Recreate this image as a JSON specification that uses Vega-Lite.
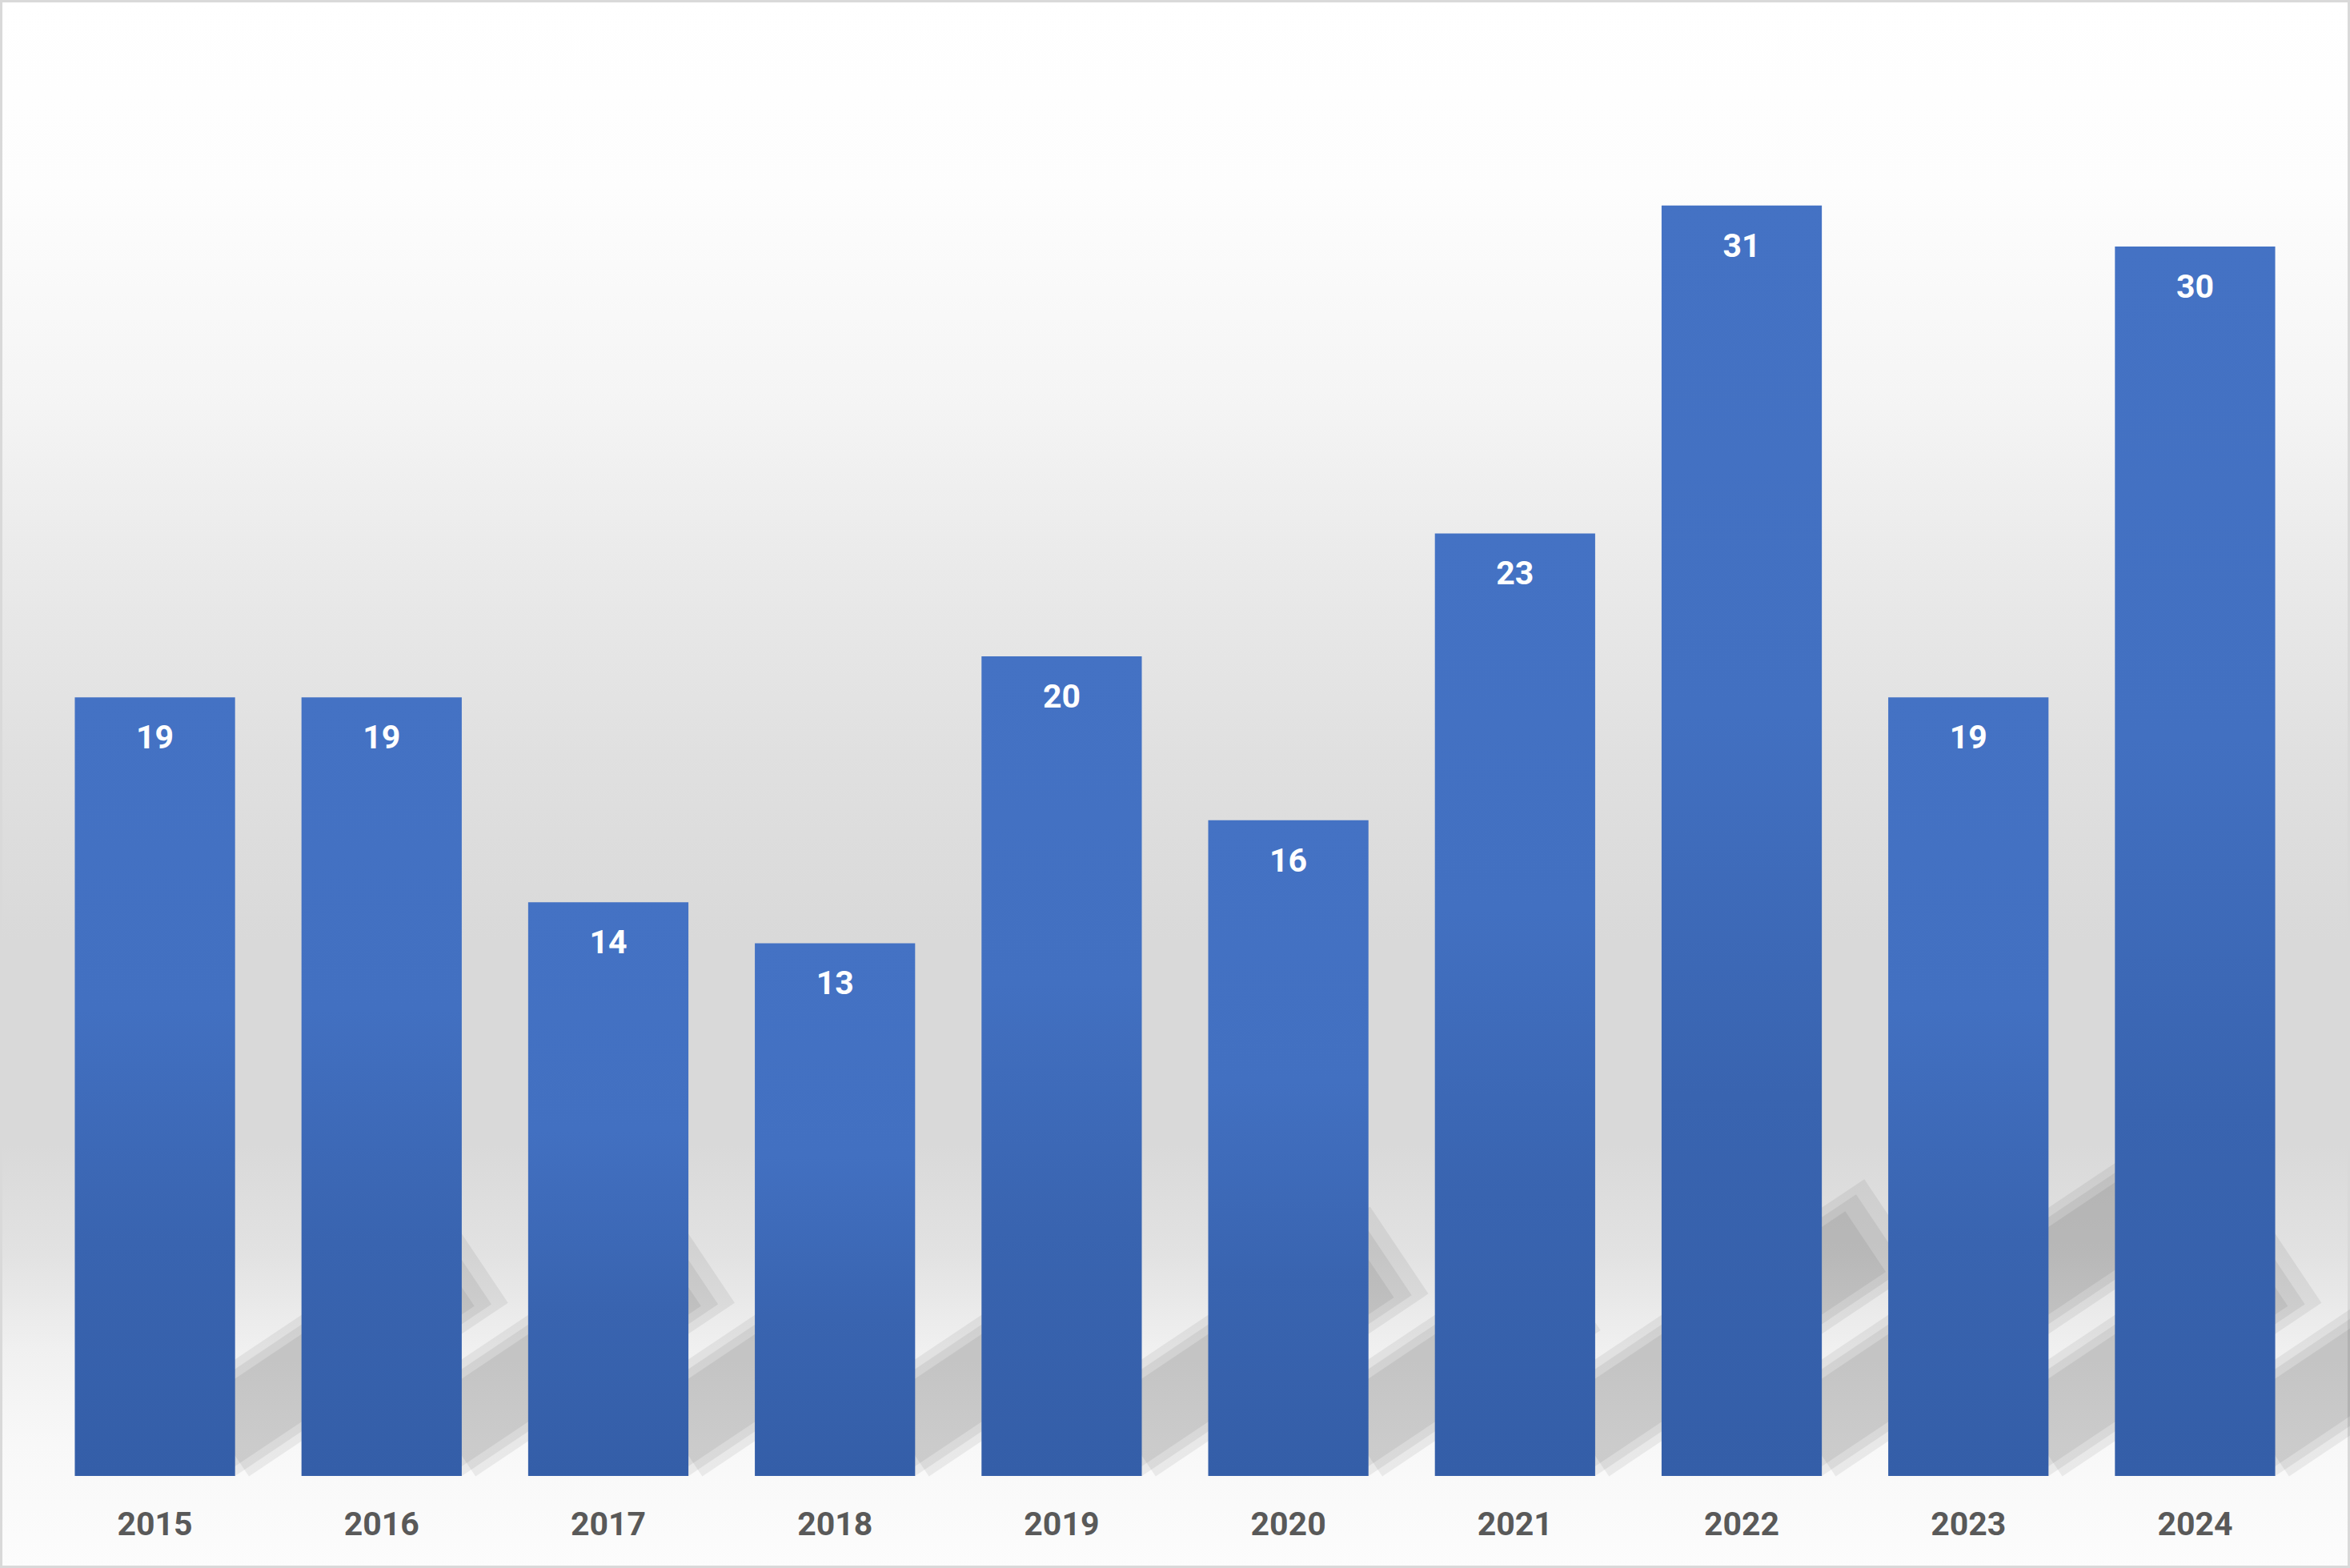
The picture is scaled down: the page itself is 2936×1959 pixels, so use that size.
{
  "$schema": "https://vega.github.io/schema/vega-lite/v6.json",
  "width": 2936,
  "height": 1959,
  "autosize": {"type": "none"},
  "padding": 0,
  "background": "#FFFFFF",
  "data": {
    "values": [
      {"year": "2015", "count": 19},
      {"year": "2016", "count": 19},
      {"year": "2017", "count": 14},
      {"year": "2018", "count": 13},
      {"year": "2019", "count": 20},
      {"year": "2020", "count": 16},
      {"year": "2021", "count": 23},
      {"year": "2022", "count": 31},
      {"year": "2023", "count": 19},
      {"year": "2024", "count": 30}
    ]
  },
  "encoding": {
    "x": {
      "field": "year", "type": "ordinal", "title": null,
      "scale": {"paddingInner": 0.293, "paddingOuter": 0.33},
      "axis": {
        "domain": false, "ticks": false, "tickSize": 0, "labelAngle": 0, "offset": -115,
        "labelFont": "Roboto", "labelFontWeight": "bold", "labelFontSize": 41,
        "labelColor": "#595959", "labelPadding": 41, "labelBaseline": "top", "grid": false
      }
    },
    "y": {
      "field": "count", "type": "quantitative", "title": null,
      "scale": {"domain": [-2.246, 36.016], "nice": false, "zero": false},
      "axis": null
    }
  },
  "layer": [
    {
      "mark": {"type": "point", "shape": "M0,0L2,0", "filled": false, "color": "#000000", "opacity": 0.06, "strokeWidth": 131, "strokeCap": "butt", "angle": 326.2, "xOffset": 81, "yOffset": -54},
      "encoding": {
        "y": {"datum": 0},
        "size": {"field": "count", "type": "quantitative", "legend": null,
          "scale": {"type": "pow", "exponent": 2, "domain": [0, 35], "range": [0, 514806]}}
      }
    },
    {
      "mark": {"type": "point", "shape": "M0,0L2,0", "filled": false, "color": "#000000", "opacity": 0.06, "strokeWidth": 111, "strokeCap": "butt", "angle": 326.2, "xOffset": 69, "yOffset": -46},
      "encoding": {
        "y": {"datum": 0},
        "size": {"field": "count", "type": "quantitative", "legend": null,
          "scale": {"type": "pow", "exponent": 2, "domain": [0, 35], "range": [0, 504810]}}
      }
    },
    {
      "mark": {"type": "point", "shape": "M0,0L2,0", "filled": false, "color": "#000000", "opacity": 0.06, "strokeWidth": 91, "strokeCap": "butt", "angle": 326.2, "xOffset": 69, "yOffset": -46},
      "encoding": {
        "y": {"datum": 0},
        "size": {"field": "count", "type": "quantitative", "legend": null,
          "scale": {"type": "pow", "exponent": 2, "domain": [0, 35], "range": [0, 456300]}}
      }
    },
    {
      "mark": {
        "type": "bar",
        "color": {
          "gradient": "linear", "x1": 0, "y1": 0, "x2": 0, "y2": 1,
          "stops": [
            {"offset": 0, "color": "#4472C4"},
            {"offset": 0.4, "color": "#4270C1"},
            {"offset": 0.7, "color": "#3964B0"},
            {"offset": 1, "color": "#345EA8"}
          ]
        }
      },
      "encoding": {"y2": {"datum": 0}}
    },
    {
      "mark": {
        "type": "text", "baseline": "alphabetic", "dy": 64, "align": "center",
        "font": "Roboto", "fontWeight": "bold", "fontSize": 41, "color": "#FFFFFF"
      },
      "encoding": {"text": {"field": "count", "type": "quantitative"}}
    }
  ],
  "resolve": {"scale": {"size": "independent"}},
  "config": {
    "view": {
      "stroke": "#D9D9D9",
      "strokeWidth": 6,
      "fill": {
        "gradient": "linear", "x1": 0, "y1": 0, "x2": 0, "y2": 1,
        "stops": [
          {"offset": 0, "color": "#FFFFFF"},
          {"offset": 0.12, "color": "#FDFDFD"},
          {"offset": 0.25, "color": "#F5F5F5"},
          {"offset": 0.35, "color": "#EBEBEB"},
          {"offset": 0.48, "color": "#E0E0E0"},
          {"offset": 0.6, "color": "#D9D9D9"},
          {"offset": 0.73, "color": "#D9D9D9"},
          {"offset": 0.8, "color": "#E2E2E2"},
          {"offset": 0.86, "color": "#F0F0F0"},
          {"offset": 0.92, "color": "#F8F8F8"},
          {"offset": 1, "color": "#FCFCFC"}
        ]
      }
    }
  }
}
